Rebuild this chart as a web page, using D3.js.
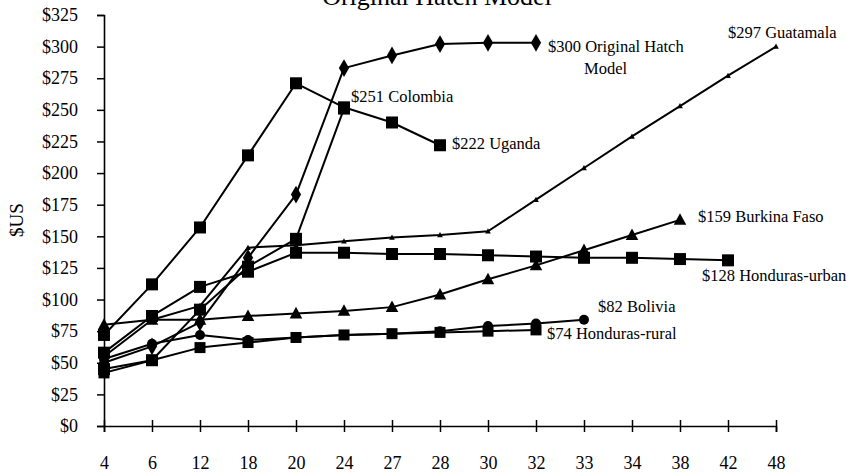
<!DOCTYPE html>
<html><head><meta charset="utf-8">
<script src="https://cdn.jsdelivr.net/npm/d3@7"></script>
<style>
html,body{margin:0;padding:0;background:#fff;}
svg{display:block;font-family:"Liberation Serif","Times New Roman",serif;}
</style></head>
<body><svg id="c" width="861" height="474"></svg>
<script>
const categories = ["4","6","12","18","20","24","27","28","30","32","33","34","38","42","48"];
const yTicks = [0,25,50,75,100,125,150,175,200,225,250,275,300,325];

const hatch        = [50, 63, 82, 133, 183, 283, 293, 302, 303, 303];
const uganda       = [72, 112, 157, 214, 271, 252, 240, 222];
const colombia     = [45, 52, 92, 126, 148, 251];
const guatemala    = [55, 84, 95, 141, 143, 146, 149, 151, 154, 179, 204, 229, 253, 277, 300];
const burkinaFaso  = [80, 84, 84, 87, 89, 91, 94, 104, 116, 127, 139, 151, 163];
const hondurasUrban= [58, 87, 110, 122, 137, 137, 136, 136, 135, 134, 133, 133, 132, 131];
const bolivia      = [53, 65, 72, 68, 70, 72, 73, 75, 79, 81, 84];
const hondurasRural= [42, 52, 62, 66, 70, 72, 73, 74, 75, 76];

const labelTexts = {
  hatch: ["$300 Original Hatch", "Model"],
  guatemala: ["$297 Guatamala"],
  colombia: ["$251 Colombia"],
  uganda: ["$222 Uganda"],
  burkinaFaso: ["$159 Burkina Faso"],
  hondurasUrban: ["$128 Honduras-urban"],
  bolivia: ["$82 Bolivia"],
  hondurasRural: ["$74 Honduras-rural"]
};

const series = [
  {key:"hondurasRural", values:hondurasRural, marker:"square", size:11, dx:11, dy:5},
  {key:"bolivia", values:bolivia, marker:"circle", size:10, dx:14, dy:-12},
  {key:"burkinaFaso", values:burkinaFaso, marker:"triangle", size:11, dx:18, dy:-2},
  {key:"hondurasUrban", values:hondurasUrban, marker:"square", size:12, dx:-26, dy:17},
  {key:"guatemala", values:guatemala, marker:"tri-small", size:5, dx:-48, dy:-12},
  {key:"colombia", values:colombia, marker:"square", size:12, dx:7, dy:-10},
  {key:"uganda", values:uganda, marker:"square", size:12, dx:12, dy:0},
  {key:"hatch", values:hatch, marker:"diamond", size:11, dx:12, dy:5}
];

const svg = d3.select("#c");
const x = d3.scalePoint().domain(categories).range([104, 776]);
const y = d3.scaleLinear().domain([0, 325]).range([426, 15]);

// title (partially cut off at top, as in reference)
svg.append("text").attr("x", 437).attr("y", 5).attr("text-anchor","middle")
  .attr("font-size", 26).text("Original Hatch Model");

// y axis
const yAxis = svg.append("g").attr("transform","translate(104,0)")
  .call(d3.axisLeft(y).tickValues(yTicks).tickFormat(d => "$" + d).tickSize(7).tickPadding(19));
yAxis.select(".domain").attr("stroke","#000").attr("stroke-width",1.6);
yAxis.selectAll(".tick line").attr("stroke","#000").attr("stroke-width",1.5);
yAxis.selectAll(".tick text").attr("font-size",18).attr("font-family","Liberation Serif").attr("fill","#000");

// x axis
const xAxis = svg.append("g").attr("transform","translate(0,426)")
  .call(d3.axisBottom(x).tickSizeOuter(0).tickSize(6).tickPadding(24));
xAxis.select(".domain").attr("stroke","#000").attr("stroke-width",1.6);
xAxis.selectAll(".tick line").attr("y1",-6).attr("y2",6).attr("stroke","#000").attr("stroke-width",1.5);
xAxis.selectAll(".tick text").attr("font-size",18).attr("font-family","Liberation Serif").attr("fill","#000");

// y title
svg.append("text").attr("transform","translate(23,220) rotate(-90)").attr("text-anchor","middle")
  .attr("font-size",19).text("$US");

const line = d3.line().x((d,i) => x(categories[i])).y(d => y(d));

function drawMarker(g, type, size) {
  if (type === "square") {
    g.append("rect").attr("x",-size/2).attr("y",-size/2).attr("width",size).attr("height",size).attr("fill","#000");
  } else if (type === "circle") {
    g.append("circle").attr("r", size/2).attr("fill","#000");
  } else if (type === "diamond") {
    g.append("path").attr("d", d3.symbol(d3.symbolDiamond, size*size*0.75)()).attr("fill","#000");
  } else if (type === "triangle" || type === "tri-small") {
    const s = size;
    g.append("path").attr("d", `M0,${-s*0.6}L${s*0.57},${s*0.45}L${-s*0.57},${s*0.45}Z`).attr("fill","#000");
  }
}

series.forEach(s => {
  svg.append("path").datum(s.values).attr("d", line)
    .attr("fill","none").attr("stroke","#000").attr("stroke-width",2).attr("stroke-linejoin","round");
  s.values.forEach((v,i) => {
    const g = svg.append("g").attr("transform",`translate(${x(categories[i])},${y(v)})`);
    drawMarker(g, s.marker, s.size);
  });
});

// end labels
series.forEach(s => {
  const i = s.values.length - 1;
  const px = x(categories[i]), py = y(s.values[i]);
  const t = labelTexts[s.key];
  svg.append("text").attr("x", px + s.dx).attr("y", py + s.dy).attr("dominant-baseline","middle")
    .attr("font-size",16.5).text(t[0]);
  if (t.length > 1) {
    svg.append("text").attr("x", px + 48).attr("y", py + 27).attr("dominant-baseline","middle")
      .attr("font-size",16.5).text(t[1]);
  }
});
</script>
</body></html>
